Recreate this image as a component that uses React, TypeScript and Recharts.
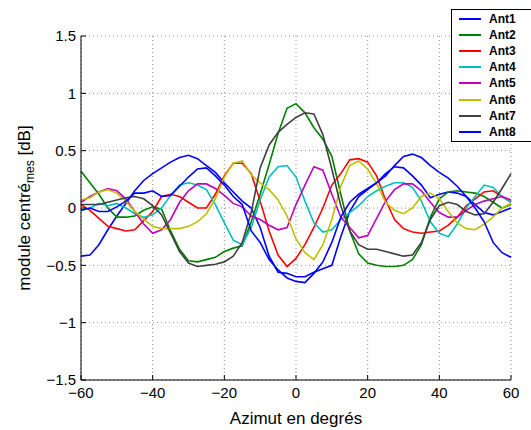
import React from 'react';
import { LineChart, Line, XAxis, YAxis, CartesianGrid, Legend } from 'recharts';

// azimuth samples (deg) and the centred module of each antenna (dB)
const azimuts = [
  -60, -57.5, -55, -52.5, -50, -47.5, -45, -42.5, -40, -37.5, -35, -32.5, -30, -27.5, -25, -22.5, -20,
  -17.5, -15, -12.5, -10, -7.5, -5, -2.5, 0, 2.5, 5, 7.5, 10, 12.5, 15, 17.5, 20, 22.5, 25, 27.5, 30,
  32.5, 35, 37.5, 40, 42.5, 45, 47.5, 50, 52.5, 55, 57.5, 60,
];

const ant1 = [
  -0.42, -0.41, -0.32, -0.19, -0.07, 0.04, 0.15, 0.24, 0.3, 0.35, 0.4, 0.44, 0.46, 0.43, 0.37, 0.31, 0.22,
  0.14, 0.06, 0.0, -0.17, -0.42, -0.56, -0.57, -0.6, -0.6, -0.56, -0.53, -0.5, -0.25, -0.03, 0.1, 0.16,
  0.22, 0.3, 0.36, 0.35, 0.28, 0.2, 0.09, 0.12, 0.14, 0.13, 0.1, 0.03, -0.04, -0.06, -0.03, 0.0,
];
const ant2 = [
  0.32, 0.22, 0.12, 0.0, -0.08, -0.08, -0.07, -0.02, 0.01, -0.01, -0.2, -0.36, -0.46, -0.47, -0.45, -0.43,
  -0.38, -0.35, -0.33, -0.12, 0.12, 0.38, 0.65, 0.87, 0.91, 0.83, 0.7, 0.6, 0.45, 0.12, -0.2, -0.4, -0.48,
  -0.5, -0.51, -0.51, -0.5, -0.45, -0.32, -0.08, 0.08, 0.14, 0.15, 0.14, 0.13, 0.1, 0.05, 0.0, 0.03,
];
const ant3 = [
  0.03, -0.02, -0.09, -0.16, -0.18, -0.2, -0.19, -0.11, -0.03, 0.1, 0.12, 0.1, 0.05, 0.0, 0.0, 0.12, 0.28,
  0.39, 0.39, 0.3, 0.06, -0.2, -0.41, -0.51, -0.44, -0.32, -0.17, 0.0, 0.2, 0.3, 0.42, 0.43, 0.4, 0.28, 0.07,
  -0.1, -0.18, -0.21, -0.22, -0.21, -0.2, -0.15, -0.08, 0.02, 0.08, 0.14, 0.15, 0.1, 0.05,
];
const ant4 = [
  -0.02, 0.0, 0.04, 0.02, 0.04, 0.0, -0.05, -0.08, -0.06, 0.0, 0.11, 0.2, 0.22, 0.2, 0.16, 0.03, -0.13,
  -0.28, -0.32, -0.17, 0.07, 0.27, 0.36, 0.37, 0.27, 0.06, -0.13, -0.21, -0.19, -0.1, -0.04, 0.02, 0.1,
  0.15, 0.19, 0.22, 0.22, 0.18, 0.06, -0.12, -0.22, -0.25, -0.14, 0.0, 0.1, 0.2, 0.18, 0.1, 0.05,
];
const ant5 = [
  0.05, 0.1, 0.14, 0.17, 0.15, 0.08, -0.03, -0.14, -0.22, -0.19, -0.1, 0.05, 0.15, 0.21, 0.21, 0.17, 0.11,
  0.04, 0.01, -0.07, -0.1, -0.15, -0.19, -0.17, 0.03, 0.2, 0.36, 0.33, 0.12, -0.08, -0.17, -0.26, -0.24,
  -0.09, 0.06, 0.16, 0.21, 0.21, 0.15, 0.05, -0.04, -0.08, -0.08, -0.02, 0.03, 0.06, 0.08, 0.1, 0.07,
];
const ant6 = [
  0.07, 0.09, 0.14, 0.16, 0.13, 0.06, -0.03, -0.1, -0.16, -0.18, -0.18, -0.18, -0.16, -0.12, -0.05, 0.08,
  0.27, 0.39, 0.41, 0.29, 0.22, 0.16, 0.07, -0.07, -0.27, -0.39, -0.45, -0.32, -0.1, 0.19, 0.37, 0.41, 0.34,
  0.21, 0.05, -0.02, -0.05, 0.0, 0.1, 0.13, 0.08, -0.03, -0.13, -0.18, -0.19, -0.14, -0.08, 0.0, 0.04,
];
const ant7 = [
  0.03, 0.03, 0.03, 0.05, 0.07, 0.09, 0.1, 0.08, 0.02, -0.06, -0.22, -0.38, -0.48, -0.51, -0.5, -0.49,
  -0.47, -0.42, -0.3, -0.04, 0.35, 0.55, 0.66, 0.73, 0.79, 0.83, 0.82, 0.64, 0.34, 0.02, -0.2, -0.32,
  -0.36, -0.36, -0.38, -0.4, -0.42, -0.41, -0.3, -0.1, 0.02, 0.05, 0.03, -0.03, -0.06, -0.05, 0.05, 0.17, 0.3,
];
const ant8 = [
  -0.02, 0.0, -0.03, -0.03, 0.01, 0.06, 0.13, 0.13, 0.15, 0.1, 0.11, 0.19, 0.27, 0.34, 0.35, 0.28, 0.2,
  0.1, 0.03, -0.2, -0.3, -0.45, -0.54, -0.61, -0.64, -0.65, -0.57, -0.47, -0.3, -0.08, 0.05, 0.12, 0.17,
  0.22, 0.28, 0.37, 0.45, 0.47, 0.44, 0.37, 0.31, 0.26, 0.19, 0.1, 0.0, -0.12, -0.3, -0.39, -0.43,
];

const series = [
  { key: 'ant1', name: 'Ant1', color: '#0000ff', values: ant1 },
  { key: 'ant2', name: 'Ant2', color: '#008000', values: ant2 },
  { key: 'ant3', name: 'Ant3', color: '#ff0000', values: ant3 },
  { key: 'ant4', name: 'Ant4', color: '#00bfbf', values: ant4 },
  { key: 'ant5', name: 'Ant5', color: '#bf00bf', values: ant5 },
  { key: 'ant6', name: 'Ant6', color: '#bfbf00', values: ant6 },
  { key: 'ant7', name: 'Ant7', color: '#404040', values: ant7 },
  { key: 'ant8', name: 'Ant8', color: '#0000ff', values: ant8 },
];

const xTicks = [-60, -40, -20, 0, 20, 40, 60];
const yTicks = [-1.5, -1, -0.5, 0, 0.5, 1, 1.5];

const data = azimuts.map((az, i) => {
  const row: Record<string, number> = { az };
  series.forEach((s) => {
    row[s.key] = s.values[i];
  });
  return row;
});

const font = '"Liberation Sans", Arial, Helvetica, sans-serif';
const fmt = (v: number) => String(v).replace('-', '\u2212');

const XLabel = (props: any) => {
  const vb = props.viewBox || { x: 81, y: 380, width: 430 };
  return (
    <text x={vb.x + vb.width / 2} y={vb.y + 44} textAnchor="middle" fontFamily={font} fontSize={17} fill="#000">
      Azimut en degrés
    </text>
  );
};

const YLabel = () => (
  <text transform="rotate(-90)" x={-208} y={30} textAnchor="middle" fontFamily={font} fontSize={17} fill="#000">
    module centré
    <tspan dy={4} fontSize={12}>mes</tspan>
    <tspan dy={-4}> [dB]</tspan>
  </text>
);

// legend box runs off the right edge of the figure, so no right border
const renderLegend = (props: any) => (
  <div
    style={{
      border: '1px solid #000',
      borderRight: 'none',
      background: '#fff',
      width: 120,
      padding: '1px 0',
      fontFamily: font,
    }}
  >
    {(props.payload || []).map((p: any) => (
      <div key={p.value} style={{ display: 'flex', alignItems: 'center', height: 16.1, paddingLeft: 7 }}>
        <div style={{ width: 22, height: 2, background: p.color, marginRight: 8, flexShrink: 0 }} />
        <div style={{ fontSize: 12, fontWeight: 'bold', color: '#000', lineHeight: '14px' }}>{p.value}</div>
      </div>
    ))}
  </div>
);

const App: React.FC = () => {
  return (
    <div style={{ position: 'absolute', left: 0, top: 0, width: 531, height: 430, overflow: 'hidden', background: '#fff' }}>
      <LineChart width={531} height={430} data={data} margin={{ top: 36, right: 20, bottom: 20, left: 41 }}>
        <CartesianGrid stroke="#8c8c8c" strokeDasharray="1 3" />
        <XAxis
          dataKey="az"
          type="number"
          domain={[-60, 60]}
          ticks={xTicks}
          height={30}
          stroke="#000"
          tickSize={-5}
          tickMargin={12}
          tickFormatter={fmt}
          tick={{ fontSize: 15, fontFamily: font, fill: '#000' }}
          label={<XLabel />}
        />
        <XAxis xAxisId="top" orientation="top" type="number" domain={[-60, 60]} ticks={xTicks} height={0} stroke="#000" tickSize={-5} tick={false} />
        <YAxis
          type="number"
          domain={[-1.5, 1.5]}
          ticks={yTicks}
          width={40}
          stroke="#000"
          tickSize={-5}
          tickMargin={10}
          tickFormatter={fmt}
          tick={{ fontSize: 15, fontFamily: font, fill: '#000' }}
          label={<YLabel />}
        />
        <YAxis yAxisId="right" orientation="right" type="number" domain={[-1.5, 1.5]} ticks={yTicks} width={0} stroke="#000" tickSize={-5} tick={false} />
        <Legend
          layout="vertical"
          align="center"
          verticalAlign="middle"
          content={renderLegend}
          wrapperStyle={{ top: 9, left: 451, width: 120 }}
        />
        {series.map((s) => (
          <Line
            key={s.key}
            type="linear"
            dataKey={s.key}
            name={s.name}
            stroke={s.color}
            strokeWidth={1.6}
            dot={false}
            isAnimationActive={false}
          />
        ))}
      </LineChart>
    </div>
  );
};

export default App;
